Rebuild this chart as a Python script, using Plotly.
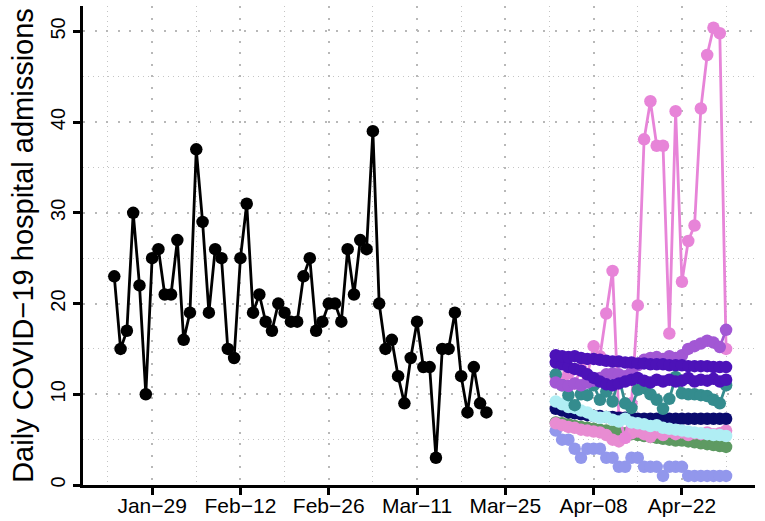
import pandas as pd
import plotly.graph_objects as go

# Observed daily admissions (Jan 23 - Mar 22, 2024)
obs_start = "2024-01-23"
obs_values = [23, 15, 17, 30, 22, 10, 25, 26, 21, 21, 27, 16, 19, 37, 29, 19, 26, 25, 15, 14,
              25, 31, 19, 21, 18, 17, 20, 19, 18, 18, 23, 25, 17, 18, 20, 20, 18, 26, 21, 27,
              26, 39, 20, 15, 16, 12, 9, 14, 18, 13, 13, 3, 15, 15, 19, 12, 8, 13, 9, 8]

# Forecast series (Apr 2 - Apr 29, 2024)
fc_start = "2024-04-02"
fc_periwinkle = [6, 5, 5, 4, 3, 4, 4, 4, 3, 3, 2, 2, 3, 3, 2, 2, 2, 1, 2, 2, 2, 1, 1, 1, 1, 1, 1, 1]
fc_green = [6.9, 6.8, 6.7, 6.5, 6.4, 6.3, 6.2, 6.1, 6.0, 5.9, 5.8, 5.7, 5.6, 5.5, 5.4, 5.3, 5.2,
            5.1, 5.0, 4.9, 4.9, 4.8, 4.7, 4.6, 4.5, 4.4, 4.3, 4.2]
fc_pink = [6.8, 6.6, 6.4, 6.3, 6.1, 6.0, 5.9, 5.8, 5.5, 5.0, 4.8, 5.2, 5.7, 5.9, 5.6, 5.3, 5.8,
           5.5, 5.9, 5.6, 5.8, 5.5, 5.7, 5.6, 5.8, 5.6, 5.7, 6.0]
fc_navy = [8.4, 8.2, 8.0, 7.9, 7.8, 7.7, 7.6, 7.6, 7.5, 7.5, 7.4, 7.4, 7.4, 7.3, 7.3, 7.3, 7.3,
           7.3, 7.3, 7.3, 7.3, 7.3, 7.3, 7.3, 7.3, 7.3, 7.3, 7.3]
fc_cyan = [9.2, 8.9, 8.6, 8.5, 8.2, 8.0, 7.6, 7.4, 7.5, 7.2, 7.0, 7.3, 6.9, 6.8, 6.7, 6.5, 6.6,
           6.3, 6.2, 6.1, 6.0, 5.9, 5.8, 5.7, 5.6, 5.5, 5.5, 5.4]
fc_teal = [12.2, 11.0, 9.9, 8.8, 10.0, 9.9, 11.0, 9.4, 10.3, 9.2, 11.9, 9.0, 8.5, 10.5, 10.7,
           10.0, 9.4, 8.4, 9.5, 11.9, 10.1, 10.0, 10.0, 9.9, 9.8, 9.4, 9.0, 11.0]
fc_purple = [11.3, 11.0, 10.9, 11.2, 11.0, 11.3, 11.5, 11.8, 12.2, 12.3, 12.2, 12.0, 12.4, 13.2,
             13.8, 14.0, 14.1, 13.9, 14.2, 14.0, 14.3, 15.0, 15.3, 15.6, 15.9, 15.7, 15.2, 17.1]
fc_indigo2 = [13.5, 13.3, 13.0, 12.8, 12.6, 12.2, 11.8, 11.4, 11.1, 11.0, 11.2, 11.4, 11.6, 11.8,
              11.5, 11.3, 11.6, 11.4, 11.6, 11.4, 11.5, 11.8, 11.4, 11.6, 11.5, 11.7, 11.4, 11.6]
fc_indigo1 = [14.3, 14.2, 14.1, 14.2, 14.0, 13.9, 13.9, 13.8, 13.7, 13.6, 13.6, 13.5, 13.5, 13.4,
              13.4, 13.3, 13.3, 13.3, 13.2, 13.2, 13.2, 13.1, 13.1, 13.1, 13.1, 13.0, 13.0, 13.0]
fc_orchid = [12.0, 11.6, 12.3, 11.2, 12.8, 12.1, 15.3, 14.2, 18.9, 23.6, 7.5, 5.2, 9.0, 19.8,
             38.1, 42.3, 37.4, 37.4, 16.7, 41.2, 22.4, 26.9, 28.6, 41.5, 47.4, 50.4, 49.8, 15.0]

tick_dates = ["2024-01-29", "2024-02-12", "2024-02-26", "2024-03-11",
              "2024-03-25", "2024-04-08", "2024-04-22"]
tick_labels = ["Jan\u221229", "Feb\u221212", "Feb\u221226", "Mar\u221211",
               "Mar\u221225", "Apr\u221208", "Apr\u221222"]
minor_dates = ["2024-01-22", "2024-02-05", "2024-02-19", "2024-03-04",
               "2024-03-18", "2024-04-01", "2024-04-15", "2024-04-29"]
y_ticks = [0, 10, 20, 30, 40, 50]
y_minor = [5, 15, 25, 35, 45]

obs_dates = pd.date_range(obs_start, periods=len(obs_values), freq="D")
fc_dates = pd.date_range(fc_start, periods=len(fc_orchid), freq="D")

fig = go.Figure()

series = [
    (fc_periwinkle, "#9297EC"),
    (fc_green, "#5E9A62"),
    (fc_pink, "#E88CD2"),
    (fc_orchid, "#E784D8"),
    (fc_navy, "#0B0B6E"),
    (fc_cyan, "#B0EEF4"),
    (fc_teal, "#348C8E"),
    (fc_purple, "#A257D4"),
    (fc_indigo2, "#4C12B8"),
    (fc_indigo1, "#4C12B8"),
]
for vals, col in series:
    fig.add_trace(go.Scatter(x=fc_dates, y=vals, mode="lines+markers",
                             line=dict(color=col, width=2.8),
                             marker=dict(color=col, size=12.5), showlegend=False))

fig.add_trace(go.Scatter(x=obs_dates, y=obs_values, mode="lines+markers",
                         line=dict(color="black", width=2.8),
                         marker=dict(color="black", size=12.5), showlegend=False))

font = "Liberation Sans, Arial, Helvetica, sans-serif"
fig.update_layout(
    width=765, height=521,
    margin=dict(l=83, r=10, t=6, b=36),
    plot_bgcolor="white", paper_bgcolor="white",
    font=dict(family=font, color="black"),
    showlegend=False,
    xaxis=dict(
        range=["2024-01-18 01:00", "2024-05-03 14:00"],
        automargin=False,
        tickmode="array", tickvals=tick_dates, ticktext=tick_labels,
        tickfont=dict(size=21), ticks="outside", ticklen=7, tickwidth=2.5, tickcolor="black",
        ticklabelstandoff=-7,
        showline=True, linewidth=2.5, linecolor="black",
        showgrid=True, gridcolor="#B8B8B8", gridwidth=2.2, griddash="2px,9.5px",
        minor=dict(tickmode="array", tickvals=minor_dates, showgrid=True,
                   gridcolor="#C4C4C4", gridwidth=1, griddash="1px,4px", ticks=""),
        zeroline=False,
    ),
    yaxis=dict(
        range=[0, 52.8],
        automargin=False,
        tickmode="array", tickvals=y_ticks, tickangle=-90,
        tickfont=dict(size=20), ticks="outside", ticklen=7, tickwidth=2.5, tickcolor="black",
        showline=True, linewidth=2.5, linecolor="black",
        showgrid=True, gridcolor="#B8B8B8", gridwidth=2.2, griddash="2px,9.5px",
        minor=dict(tickmode="array", tickvals=y_minor, showgrid=True,
                   gridcolor="#C4C4C4", gridwidth=1, griddash="1px,4px", ticks=""),
        zeroline=False,
        title=dict(text="Daily COVID\u221219 hospital admissions", font=dict(size=29), standoff=6),
    ),
)

fig.write_html("out.html", config={"displayModeBar": False},
               post_script="document.body.style.margin='0';document.body.style.overflow='hidden';")
